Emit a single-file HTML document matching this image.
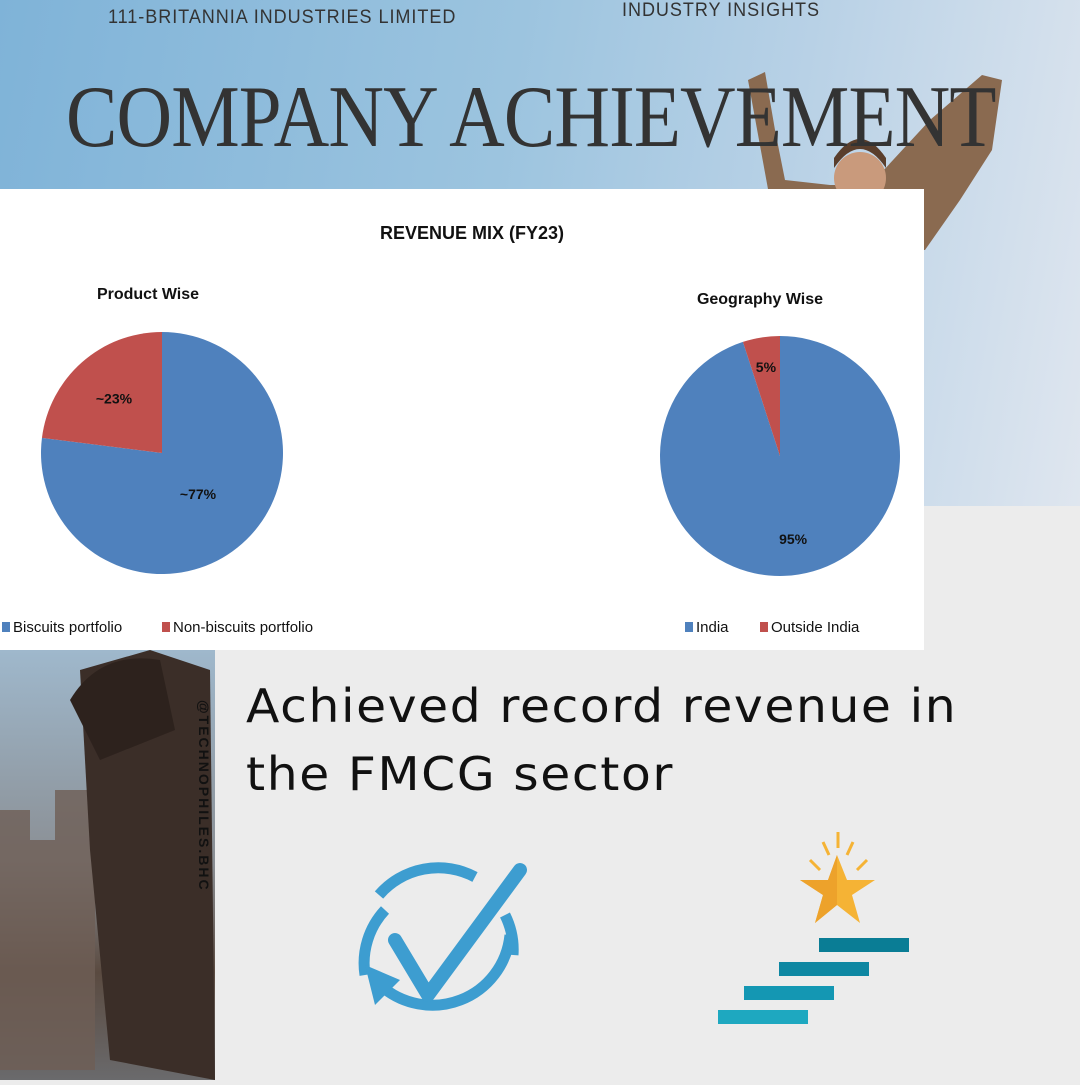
<!DOCTYPE html>
<html><head><meta charset="utf-8"><style>
html,body{margin:0;padding:0}
body{width:1080px;height:1080px;position:relative;overflow:hidden;background:#ececec;font-family:"Liberation Sans",sans-serif}
.abs{position:absolute}
</style></head><body>
<div class="abs" style="left:0;top:0;width:1080px;height:506px;background:linear-gradient(100deg,#7fb3d8 0%,#9cc4df 45%,#b8d1e6 70%,#dfe6ef 100%)"></div>
<div class="abs" style="left:0;top:506px;width:1080px;height:574px;background:#ececec"></div>
<svg class="abs" style="left:720px;top:60px" width="300" height="200">
<path d="M28 20 L45 12 L55 70 L65 120 L110 125 L150 125 L210 60 L262 15 L282 20 L272 90 L240 140 L205 190 L130 190 L50 140 Z" fill="#8a6a50"/>
<circle cx="140" cy="118" r="26" fill="#c99a7c"/>
<path d="M114 108 Q140 70 166 108 L166 98 Q140 60 114 98Z" fill="#5a3e2c"/>
</svg>
<div class="abs" style="left:108px;top:7px;font-size:19px;color:#333;letter-spacing:1px;transform:scaleX(0.95);transform-origin:left">111-BRITANNIA INDUSTRIES LIMITED</div>
<div class="abs" style="left:622px;top:0px;font-size:19px;color:#333;letter-spacing:1px;transform:scaleX(0.95);transform-origin:left">INDUSTRY INSIGHTS</div>
<div class="abs" style="left:66px;top:68px;font-family:'Liberation Serif',serif;font-size:88px;line-height:100px;color:#333;white-space:nowrap;transform:scaleX(0.875);transform-origin:left;letter-spacing:-1px">COMPANY ACHIEVEMENT</div>

<div class="abs" style="left:0;top:650px;width:215px;height:430px;background:linear-gradient(180deg,#9fb8cc 0%,#8a8e93 50%,#5a4a40 75%,#6a6a6c 100%)">
<svg width="215" height="430"><path d="M0 160 L30 160 L30 190 L55 190 L55 140 L95 140 L95 420 L0 420Z" fill="#6e5e55" opacity=".8"/>
<path d="M80 20 L150 0 L210 20 L215 430 L110 410 L90 200 Z" fill="#3b2e28"/>
<path d="M70 50 Q100 0 160 10 L175 80 L100 110Z" fill="#2d221d"/></svg>
</div>
<div class="abs" style="left:196px;top:700px;font-size:14px;font-weight:bold;color:#111;writing-mode:vertical-rl;letter-spacing:2px">@TECHNOPHILES.BHC</div>

<div class="abs" style="left:0;top:189px;width:924px;height:461px;background:#fff"></div>
<svg id="chart" class="abs" style="left:0;top:189px" width="924" height="461"></svg>

<div class="abs" style="left:246px;top:672px;font-family:'DejaVu Sans',sans-serif;font-size:46px;line-height:68px;color:#111;letter-spacing:1.5px;transform:scaleX(1.06);transform-origin:left;white-space:nowrap">Achieved record revenue in<br>the FMCG sector</div>

<svg class="abs" style="left:355px;top:855px" width="180" height="175">
<path d="M30 55 A78 78 0 0 0 10 120" fill="none" stroke="#3d9dd0" stroke-width="11"/>
<path d="M24 40 A78 78 0 0 1 120 22" fill="none" stroke="#3d9dd0" stroke-width="11"/>
<path d="M25 130 A78 78 0 0 0 155 80" fill="none" stroke="#3d9dd0" stroke-width="11"/>
<path d="M150 60 A78 78 0 0 1 158 100" fill="none" stroke="#3d9dd0" stroke-width="11"/>
<polygon points="10,110 45,125 20,150" fill="#3d9dd0"/>
<path d="M40 85 L73 140 L165 15" fill="none" stroke="#3d9dd0" stroke-width="14" stroke-linecap="round" stroke-linejoin="round"/>
</svg>
<svg class="abs" style="left:715px;top:830px" width="200" height="200">
<g stroke="#f5b335" stroke-width="3"><line x1="123" y1="2" x2="123" y2="18"/><line x1="108" y1="12" x2="114" y2="25"/><line x1="138" y1="12" x2="132" y2="25"/><line x1="95" y1="30" x2="105" y2="40"/><line x1="152" y1="30" x2="142" y2="40"/></g>
<polygon points="122,25 132,50 160,50 137,65 145,93 122,75 100,93 108,65 85,50 113,50" fill="#f5b335"/>
<polygon points="122,25 122,75 100,93 108,65 85,50 113,50" fill="#eda22b"/>
<rect x="104" y="108" width="90" height="14" fill="#0a7d95"/>
<rect x="64" y="132" width="90" height="14" fill="#0e87a2"/>
<rect x="29" y="156" width="90" height="14" fill="#1497b3"/>
<rect x="3" y="180" width="90" height="14" fill="#1ea8c0"/>
</svg>

<script>
const productLabels=["Biscuits portfolio","Non-biscuits portfolio"];
const productValues=[77,23];
const productText=["~77%","~23%"];
const geoLabels=["India","Outside India"];
const geoValues=[95,5];
const geoText=["95%","5%"];
const colors=["#4f81bd","#c0504d"];
const NS="http://www.w3.org/2000/svg";
const svg=document.getElementById('chart');
function mk(t,a){const e=document.createElementNS(NS,t);for(const k in a)e.setAttribute(k,a[k]);svg.appendChild(e);return e;}
function txt(x,y,s,size,name,anchor){const e=mk('text',{x:x,y:y,'font-size':size,'font-weight':'bold','font-family':'Liberation Sans Narrow, Liberation Sans, sans-serif','text-anchor':anchor||'middle',fill:'#111'});e.textContent=s;


return e;}
txt(472,50,"REVENUE MIX (FY23)",18,'chart-title');
function pie(cx,cy,r,vals,labs,texts,title,tx,ty,prefix,labPos){
  txt(tx,ty,title,16,prefix+'-title');
  const tot=vals.reduce((a,b)=>a+b,0);let a0=0;
  vals.forEach((v,i)=>{
    const a1=a0+v/tot*2*Math.PI;
    const x0=cx+r*Math.sin(a0),y0=cy-r*Math.cos(a0),x1=cx+r*Math.sin(a1),y1=cy-r*Math.cos(a1);
    const large=(a1-a0)>Math.PI?1:0;
    const p=mk('path',{d:`M${cx} ${cy} L${x0} ${y0} A${r} ${r} 0 ${large} 1 ${x1} ${y1} Z`,fill:colors[i]});
    
    
    const am=(a0+a1)/2, lr=r*labPos[i];
    txt(cx+lr*Math.sin(am),cy-lr*Math.cos(am)+5,texts[i],14,prefix+'-label-'+i);
    a0=a1;
  });
}
pie(162,264,121,productValues,productLabels,productText,"Product Wise",148,110,'product-pie',[0.45,0.6]);
pie(780,267,120,geoValues,geoLabels,geoText,"Geography Wise",760,115,'geo-pie',[0.7,0.75]);
function legend(items,x0,gaps,prefix){let x=x0;items.forEach((s,i)=>{
  const r=mk('rect',{x:x,y:433,width:8,height:10,fill:colors[i]});
  
  
  txt(x+11,443,s,15,prefix+'-legend-entry-'+i,'start').setAttribute('font-weight','normal');
  x+=gaps[i];});}
legend(productLabels,2,[160],'product');
legend(geoLabels,685,[75],'geo');
</script>
</body></html>
